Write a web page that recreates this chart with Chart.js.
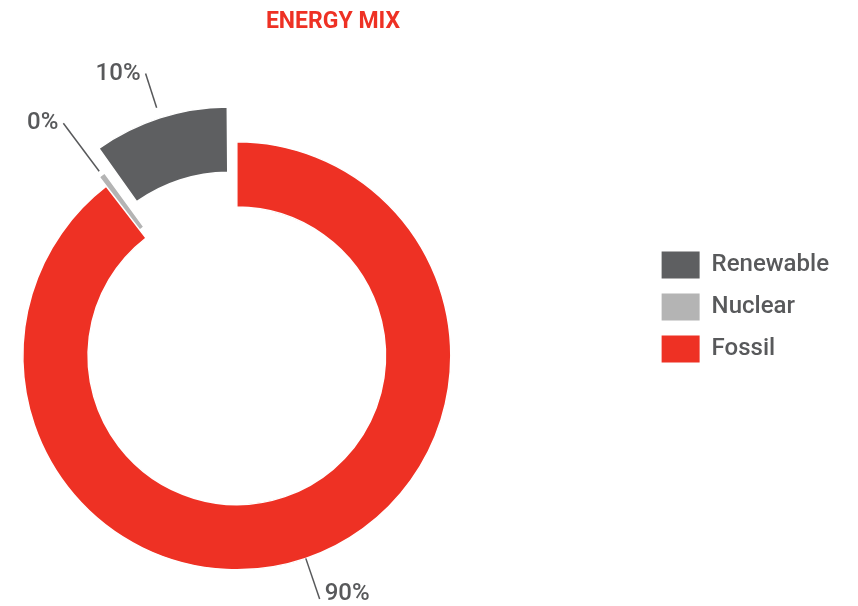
<!DOCTYPE html>
<html>
<head>
<meta charset="utf-8">
<script src="https://cdn.jsdelivr.net/npm/chart.js@4"></script>
<style>
  html, body { margin: 0; padding: 0; background: #fff; }
  #wrap { position: relative; width: 858px; height: 606px; overflow: hidden; }
  /* canvas pushed left so the ring sits in the left part of the page */
  #box { position: absolute; left: -173px; top: 0; width: 1031px; height: 606px; }
</style>
</head>
<body>
<div id="wrap"><div id="box"><canvas id="mix"></canvas></div></div>
<script>
// energy mix, clockwise from 12 o'clock
var categories = ['Fossil', 'Nuclear', 'Renewable'];
var shares = [90, 0.5, 10];
var colors = ['#EE3124', '#B4B4B4', '#5E5F61'];

var grey = '#58595B';
Chart.defaults.font.family = 'Roboto';

// percentage labels with leader lines
var sliceLabels = {
  id: 'sliceLabels',
  afterDatasetsDraw: function(chart, args, opts) {
    var ctx = chart.ctx;
    var meta = chart.getDatasetMeta(0);
    var total = shares.reduce(function(a, b) { return a + b; }, 0);
    ctx.save();
    ctx.font = '500 24px Roboto';
    ctx.fillStyle = grey;
    ctx.strokeStyle = grey;
    ctx.lineWidth = 1.5;
    ctx.textBaseline = 'middle';
    meta.data.forEach(function(arc, i) {
      var mid = (arc.startAngle + arc.endAngle) / 2;
      var o = (arc.options.offset || 0) / 4;
      var fix = 1 - Math.sin(Math.min(Math.PI, arc.endAngle - arc.startAngle));
      var r0 = arc.outerRadius + o + 2 * o * fix;
      var r1 = r0 + opts.lengths[i];
      var cx = Math.cos(mid), cy = Math.sin(mid);
      var x0 = arc.x + cx * r0, y0 = arc.y + cy * r0;
      var x1 = arc.x + cx * r1, y1 = arc.y + cy * r1;
      ctx.beginPath();
      ctx.moveTo(x0, y0);
      ctx.lineTo(x1, y1);
      ctx.stroke();
      var right = cx > 0;
      ctx.textAlign = right ? 'left' : 'right';
      var ty = Math.min(y1, chart.height - 12);
      ctx.fillText(Math.round(shares[i] / total * 100) + '%', right ? x1 + 5 : x1 - 5, ty);
    });
    ctx.restore();
  }
};

new Chart(document.getElementById('mix'), {
  type: 'doughnut',
  data: {
    labels: categories,
    datasets: [{
      data: shares,
      backgroundColor: colors,
      borderColor: '#ffffff',
      borderWidth: [1.5, 0, 1.5],
      offset: [0, 22, 102]
    }]
  },
  options: {
    responsive: true,
    maintainAspectRatio: false,
    animation: false,
    radius: 214,
    cutout: '69.5%',
    layout: { padding: { top: 8, right: 19, bottom: 0, left: 0 } },
    plugins: {
      title: {
        display: true,
        text: 'ENERGY MIX',
        color: '#EE3124',
        font: { size: 23, weight: 'bold' },
        padding: { top: 0, bottom: 70 }
      },
      legend: {
        position: 'right',
        reverse: true,
        labels: {
          color: grey,
          font: { size: 24, weight: 500 },
          boxWidth: 38,
          boxHeight: 27,
          padding: 15,
          generateLabels: function(chart) {
            var items = Chart.overrides.doughnut.plugins.legend.labels.generateLabels(chart);
            return items.map(function(it) { it.lineWidth = 0; return it; });
          }
        }
      },
      tooltip: { enabled: false },
      sliceLabels: { lengths: [43, 60, 36] }
    }
  },
  plugins: [sliceLabels]
});
</script>
</body>
</html>
